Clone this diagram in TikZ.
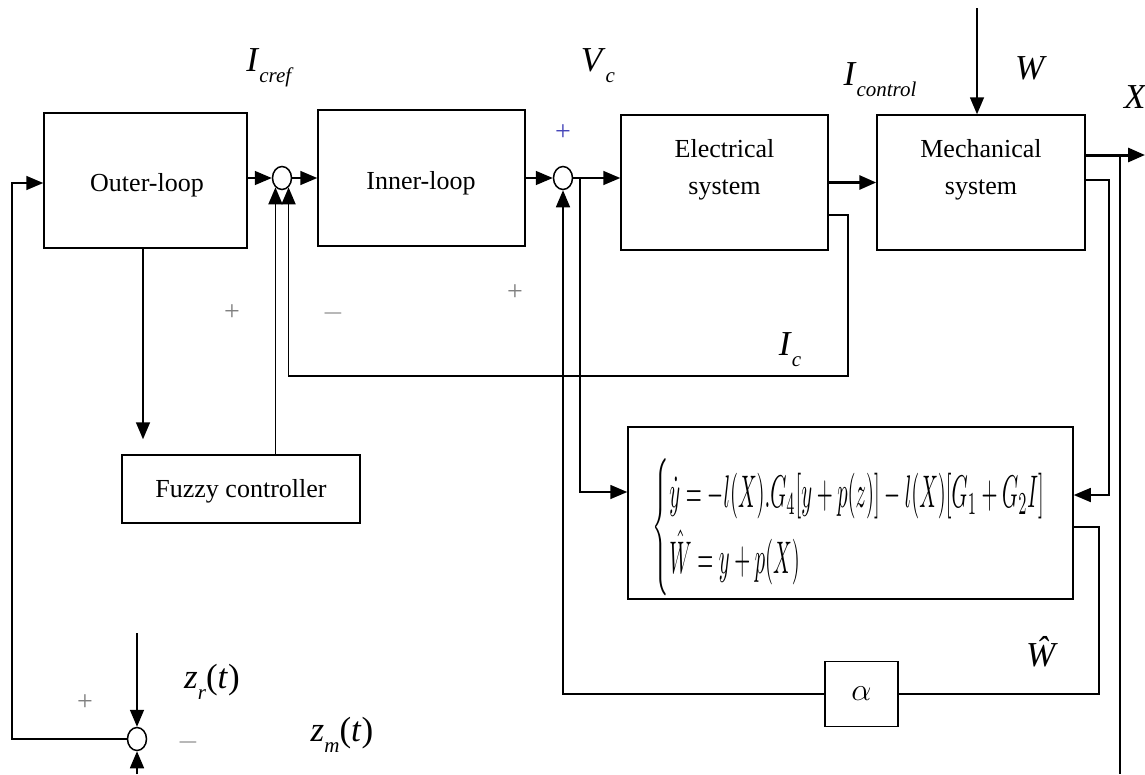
\documentclass[tikz,border=0pt]{standalone}
\usepackage{fix-cm}
\usepackage{amsmath}
\usepackage{fontspec}
\setmainfont{Liberation Serif}
\usetikzlibrary{arrows.meta,calc,shapes.geometric}
\newcommand\lsub[1]{\raisebox{-0.32em}{\fontsize{21}{21}\selectfont\textit{#1}}}
\begin{document}
\begin{tikzpicture}[x=1pt,y=-1pt,
  line width=1.6pt,
  arr/.style={-{Triangle[length=17pt,width=14pt]}},
  blk/.style={draw,rectangle,line width=1.5pt,inner sep=0pt,align=center},
  txt/.style={align=center,font=\fontsize{26}{37}\selectfont},
  sumc/.style={draw,ellipse,fill=white,minimum width=19pt,minimum height=23pt,inner sep=0pt,line width=1.5pt},
  lbl/.style={font=\fontsize{35}{38}\selectfont},
  sgn/.style={text=gray,font=\fontsize{28}{30}\selectfont}]
\useasboundingbox (0,0) rectangle (1145,774);
% blocks
\node[blk,minimum width=203pt,minimum height=135pt] (ol) at (145.5,180.5) {};
\node[txt] (oltxt) at (147,185) {Outer-loop};
\node[blk,minimum width=207pt,minimum height=136pt] (il) at (421.5,178) {};
\node[txt] (iltxt) at (421,183) {Inner-loop};
\node[blk,minimum width=207pt,minimum height=135pt] (el) at (724.5,182.5) {};
\node[txt] (eltxt) at (724.5,170) {Electrical\\system};
\node[blk,minimum width=208pt,minimum height=135pt] (me) at (981,182.5) {};
\node[txt] (metxt) at (981,170) {Mechanical\\system};
\node[blk,minimum width=238pt,minimum height=68pt] (fz) at (241,489) {};
\node[txt] (fztxt) at (241,491) {Fuzzy controller};
\node[blk,minimum width=445pt,minimum height=172pt] (est) at (850.5,513) {};
\node[anchor=west,inner sep=0pt] (eq) at (652,527) {\resizebox{414pt}{80pt}{\renewcommand\arraystretch{1.05}$\begin{cases}\dot y = -l(X).G_4[y+p(z)]-l(X)[G_1+G_2I]\\ \hat W = y+p(X)\end{cases}$}};
\node[blk,minimum width=73pt,minimum height=65pt] (al) at (861.5,694) {\fontsize{32}{34}\selectfont$\alpha$};
% summing junctions
\node[sumc] (s1) at (282,178) {};
\node[sumc] (s2) at (563,178) {};
\node[sumc] (s3) at (137,739) {};
% coordinates
\coordinate (Wtop) at (977,8);
\coordinate (Xend) at (1145,155);
\coordinate (zr) at (137,633);
\coordinate (zm) at (137,774);
\coordinate (rb) at (1120,774);
% forward path
\draw[arr] (ol.east |- s1) -- (s1.west);
\draw[arr] (s1.east) -- (il.west |- s1);
\draw[arr] (il.east |- s2) -- (s2.west);
\draw[arr] (s2.east) -- (el.west |- s2);
\draw[arr,line width=3pt] (el.east) -- (me.west);
\draw[arr,line width=3pt] (me.east |- Xend) -- (Xend);
\draw[arr] (Wtop) -- (me.north -| Wtop);
% mechanical to estimator
\draw[arr] (me.east |- 0,180) -| (1109,495) -- (est.east |- 0,495);
\draw (1120,155) -- (rb);
% current feedback
\draw[arr] (el.east |- 0,215) -| (848,376) -| (s1.-55);
% fuzzy
\draw[arr] (fz.north -| s1.-125) -- (s1.-125);
\draw[arr] (ol.south -| 143,0) -- ($(fz.north -| 143,0)+(0,-15)$);
% estimator input
\draw[arr] (580,178) |- (est.west |- 0,492);
% estimator output through alpha
\draw (est.east |- 0,527) -| (1099,694) -- (al.east);
\draw[arr] (al.west) -| (s2.south);
% outer feedback
\draw[arr] (s3.west) -| (12,183) -- (ol.west |- 0,183);
\draw[arr] (zr) -- (s3.north);
\draw[arr] (zm) -- (s3.south);
% labels
\node[lbl] (licref) at (270,68) {\textit{I}\lsub{cref}};
\node[lbl] (lvc) at (598,66) {\textit{V}\lsub{c}};
\node[lbl] (lictl) at (880,80) {\textit{I}\lsub{control}};
\node[lbl] (lw) at (1031,68) {\textit{W}};
\node[lbl,anchor=west] (lx) at (1120,97) {\textit{X}};
\node[lbl] (lic) at (790,350) {\textit{I}\lsub{c}};
\node[lbl] (lwh) at (1042,652) {\textit{Ŵ}};
\node[lbl] (lzr) at (212,682) {\textit{z}\lsub{r}(\textit{t})};
\node[lbl] (lzm) at (342,735) {\textit{z}\lsub{m}(\textit{t})};
\node[sgn,text=blue!45!gray] (p1) at (563,133) {+};
\node[sgn] (p2) at (515,293) {+};
\node[sgn] (p3) at (232,313) {+};
\node[sgn] (m1) at (333,313) {$-$};
\node[sgn] (p4) at (85,703) {+};
\node[sgn] (m2) at (188,742) {$-$};
\end{tikzpicture}
\end{document}
